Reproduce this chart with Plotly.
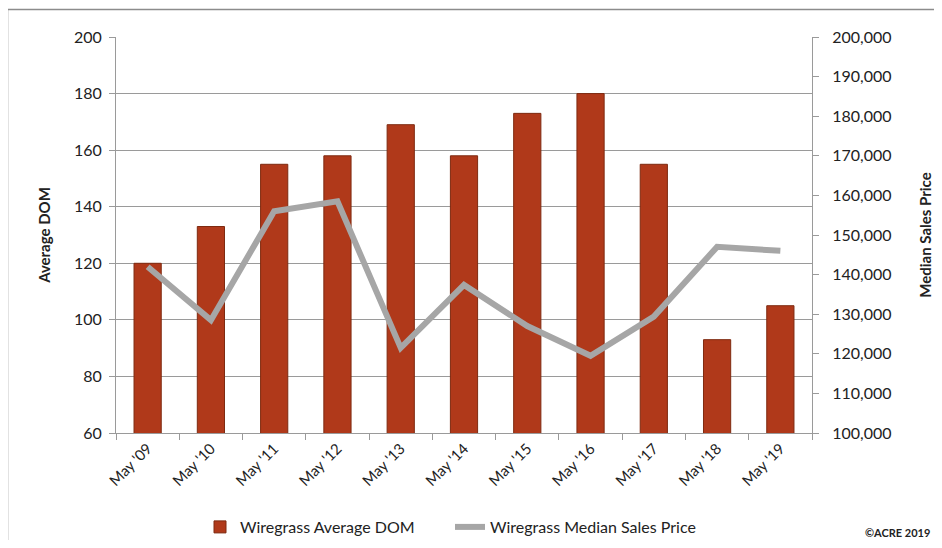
import plotly.graph_objects as go

categories = ["May '09", "May '10", "May '11", "May '12", "May '13", "May '14",
              "May '15", "May '16", "May '17", "May '18", "May '19"]
avg_dom = [120, 133, 155, 158, 169, 158, 173, 180, 155, 93, 105]
median_price = [142000, 128500, 156000, 158500, 121500, 137400, 127000, 119500, 129400, 147000, 146000]

FONT = "Lato"
GRID = "#9a9a9a"

fig = go.Figure()
fig.add_trace(go.Bar(
    x=categories, y=avg_dom, name="Wiregrass Average DOM",
    marker=dict(color="#B0391A", line=dict(color="#7E2A10", width=1)),
    yaxis="y",
))
fig.add_trace(go.Scatter(
    x=categories, y=median_price, name="Wiregrass Median Sales Price",
    mode="lines", line=dict(color="#A6A6A6", width=6),
    yaxis="y2",
))

# page has an 8px body margin; figure occupies page pixels 8..934 x 8..540
OFF = 8
W, H = 926, 532
ml, mr, mt, mb = 108, 122, 29, 107
pw, ph = W - ml - mr, H - mt - mb

def px(x):  # page pixel -> paper x
    return (x - OFF - ml) / pw

def py(y):  # page pixel -> paper y
    return (H - mb - (y - OFF)) / ph

fig.update_layout(
    width=W, height=H,
    margin=dict(l=ml, r=mr, t=mt, b=mb, pad=0, autoexpand=False),
    plot_bgcolor="white", paper_bgcolor="white",
    font=dict(family=FONT, size=16, color="#222222"),
    bargap=0.57,
    showlegend=True,
    legend=dict(orientation="h", x=px(200), xanchor="left", y=py(527), yanchor="middle",
                font=dict(size=16), tracegroupgap=0,
                entrywidth=205, entrywidthmode="pixels"),
    xaxis=dict(
        type="category", tickangle=-45, showgrid=False,
        showline=True, linecolor=GRID, linewidth=1,
        ticks="outside", tickcolor=GRID, ticklen=6, tickson="boundaries",
        tickfont=dict(size=15), automargin=False,
    ),
    yaxis=dict(
        range=[60, 200], dtick=20, showgrid=True, gridcolor=GRID, gridwidth=1,
        showline=True, linecolor=GRID, linewidth=1,
        ticks="outside", tickcolor=GRID, ticklen=6, ticklabelstandoff=4,
        title=dict(text="<b>Average DOM</b>", font=dict(size=15), standoff=19),
        zeroline=False, automargin=False,
    ),
    yaxis2=dict(
        range=[100000, 200000], dtick=10000, overlaying="y", side="right",
        showgrid=False, showline=True, linecolor=GRID, linewidth=1,
        ticks="outside", tickcolor=GRID, ticklen=6, tickformat=",", ticklabelstandoff=10,
        title=dict(text="<b>Median Sales Price</b>", font=dict(size=15), standoff=30),
        zeroline=False, automargin=False,
    ),
    shapes=[dict(type="rect", xref="paper", yref="paper",
                 x0=px(7.5), x1=px(990), y0=py(600), y1=py(9.5),
                 line=dict(color="#8c8c8c", width=1.5), fillcolor="rgba(0,0,0,0)",
                 layer="below")],
    annotations=[dict(text="<b>©ACRE 2019</b>", xref="paper", yref="paper",
                      x=px(932), y=py(532), xanchor="right", yanchor="middle",
                      showarrow=False, font=dict(size=11, color="#222222"))],
)

fig.write_html("out.html")
